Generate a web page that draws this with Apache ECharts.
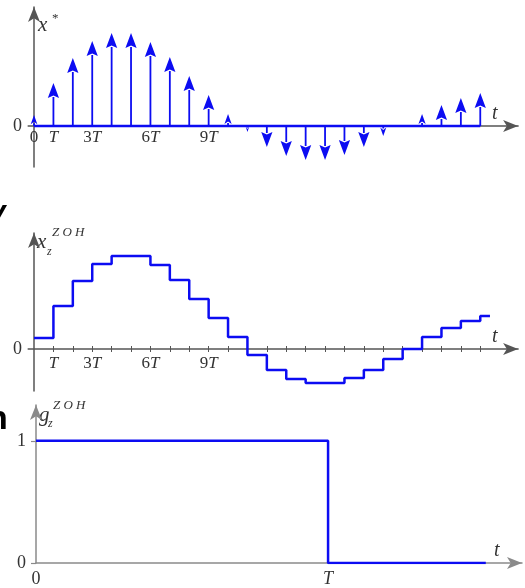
<!DOCTYPE html>
<html><head><meta charset="utf-8">
<script src="https://cdn.jsdelivr.net/npm/echarts@6/dist/echarts.min.js"></script>
<style>html,body{margin:0;padding:0;background:#fff;}#c{width:525px;height:588px;}</style>
</head><body><div id="c"></div>
<script>
// ---- data ----
const sampleIndex = [0,1,2,3,4,5,6,7,8,9,10,11,12,13,14,15,16,17,18,19,20,21,22,23];
const sampleValues = [11,43,68,85,93,93,84,69,50,31,12,-6,-21,-30,-34,-34,-29,-21,-10,0,12,21,28,33];
const holdEnd = 23.5;
const topTickValues = [0,1,3,6,9];
const topTickLabels = ['0','T','3T','6T','9T'];
const midTickMarks = [1,2,3,4,5,6,7,8,9,10,11,12,13,14,15,16,17,18,19,20,21,22,23];
const midTickValues = [1,3,6,9];
const midTickLabels = ['T','3T','6T','9T'];
const pulseT = [0,1,1,1.54];
const pulseG = [1,1,0,0];
const bottomTickValues = [0,1];
const bottomTickLabels = ['0','T'];
const bottomYValues = [0,1];
const bottomYLabels = ['0','1'];

// ---- styling / layout ----
const BLUE = '#0c0cf2';
const AX = '#555';
const AXL = '#8a8a8a';
const TXT = '#333';
const SERIF = '"Liberation Serif","DejaVu Serif",serif';

const X_RANGE = {min: -0.3, max: 24.95};
const G = [
  {left: 28.2, top: 7, width: 489.9, height: 160, ymin: -41, ymax: 119},
  {left: 28.2, top: 233, width: 489.9, height: 158, ymin: -42, ymax: 116},
  {left: 36, top: 405, width: 486, height: 159, ymin: 0, ymax: 1.2927, xmin: 0, xmax: 1.664}
];
// offsets that put each axis on the other's zero
function xOff(g){ return g.ymin * g.height / (g.ymax - g.ymin); }
function yOff(g, xmin, xmax){ return xmin * g.width / (xmax - xmin); }

function fmt(values, labels){
  return function(v){
    const i = values.findIndex(x => Math.abs(x - v) < 1e-6);
    if (i < 0) return '';
    const s = labels[i];
    const m = s.match(/^(\d*)(T?)$/);
    let out = '';
    if (m[1]) out += '{n|' + m[1] + '}';
    if (m[2]) out += '{i|T}';
    return out;
  };
}
const rich = {
  n: {fontFamily: SERIF, fontSize: 17, color: TXT},
  i: {fontFamily: SERIF, fontSize: 17, fontStyle: 'italic', color: TXT}
};
function arrowLine(color){
  return {show: true, onZero: false, symbol: ['none','arrow'], symbolSize: [9,15],
          lineStyle: {color: color, width: 1.5}};
}

const chart = echarts.init(document.getElementById('c'), null, {renderer: 'canvas'});
const impulseData = sampleIndex.map((k,i) => [k, sampleValues[i]]);
const holdData = impulseData.concat([[holdEnd, sampleValues[sampleValues.length-1]]]);

chart.setOption({
  animation: false,
  backgroundColor: '#fff',
  grid: G.map(g => ({left: g.left, top: g.top, width: g.width, height: g.height})),
  xAxis: [
    {gridIndex: 0, type: 'value', min: X_RANGE.min, max: X_RANGE.max, offset: xOff(G[0]), axisLine: arrowLine(AX),
     axisTick: {show: false}, splitLine: {show: false},
     axisLabel: {customValues: topTickValues, formatter: fmt(topTickValues, topTickLabels), margin: 3, rich: rich}},
    {gridIndex: 1, type: 'value', min: X_RANGE.min, max: X_RANGE.max, offset: xOff(G[1]), axisLine: arrowLine(AX),
     axisTick: {show: true, customValues: midTickMarks, length: 3, lineStyle: {color: AX, width: 1}},
     splitLine: {show: false},
     axisLabel: {customValues: midTickValues, formatter: fmt(midTickValues, midTickLabels), margin: 6, rich: rich}},
    {gridIndex: 1, type: 'value', position: 'bottom', min: X_RANGE.min, max: X_RANGE.max, offset: xOff(G[1]),
     axisLine: {show: false, onZero: false},
     axisTick: {show: true, inside: true, customValues: midTickMarks, length: 3, lineStyle: {color: AX, width: 1}},
     splitLine: {show: false}, axisLabel: {show: false}},
    {gridIndex: 2, type: 'value', min: G[2].xmin, max: G[2].xmax, axisLine: arrowLine(AXL),
     axisTick: {show: false}, splitLine: {show: false},
     axisLabel: {customValues: bottomTickValues, formatter: fmt(bottomTickValues, bottomTickLabels), margin: 7,
       rich: {n: Object.assign({}, rich.n, {fontSize: 18}), i: Object.assign({}, rich.i, {fontSize: 18})}}}
  ],
  yAxis: [
    {gridIndex: 0, type: 'value', min: G[0].ymin, max: G[0].ymax, offset: yOff(G[0], X_RANGE.min, X_RANGE.max),
     axisLine: arrowLine(AX), axisTick: {show: false}, splitLine: {show: false},
     axisLabel: {customValues: [0], margin: 12, fontFamily: SERIF, fontSize: 18, color: TXT}},
    {gridIndex: 1, type: 'value', min: G[1].ymin, max: G[1].ymax, offset: yOff(G[1], X_RANGE.min, X_RANGE.max),
     axisLine: arrowLine(AX), axisTick: {show: false}, splitLine: {show: false},
     axisLabel: {customValues: [0], margin: 12, fontFamily: SERIF, fontSize: 18, color: TXT}},
    {gridIndex: 2, type: 'value', min: G[2].ymin, max: G[2].ymax, axisLine: arrowLine(AXL),
     axisTick: {show: true, customValues: bottomYValues, length: 5, lineStyle: {color: AXL, width: 1.2}},
     splitLine: {show: false},
     axisLabel: {customValues: bottomYValues, margin: 10, fontFamily: SERIF, fontSize: 18, color: TXT,
       formatter: v => bottomYLabels[bottomYValues.indexOf(v)] || ''}}
  ],
  series: [
    {type: 'line', xAxisIndex: 0, yAxisIndex: 0, symbol: 'none', z: 3,
     data: [[sampleIndex[0], 0], [sampleIndex[sampleIndex.length-1], 0]],
     lineStyle: {color: BLUE, width: 2.5}},
    {type: 'custom', xAxisIndex: 0, yAxisIndex: 0, z: 4, data: impulseData,
     renderItem: function(params, api){
       const k = api.value(0), v = api.value(1);
       if (Math.abs(v) < 0.5) return null;
       const p0 = api.coord([k, 0]), p1 = api.coord([k, v]);
       const dir = v > 0 ? 1 : -1;
       const hl = Math.min(14, Math.abs(v) * 0.75);
       const hw = hl * 0.4;
       const base = p1[1] + dir * hl;
       return {type: 'group', children: [
         {type: 'line', shape: {x1: p0[0], y1: p0[1], x2: p0[0], y2: base},
          style: {stroke: BLUE, lineWidth: 1.8}},
         {type: 'polygon', shape: {points: [[p1[0], p1[1]], [p1[0]-hw, base + dir*1], [p1[0], base - dir*1.5], [p1[0]+hw, base + dir*1]]},
          style: {fill: BLUE}}
       ]};
     }},
    {type: 'line', xAxisIndex: 1, yAxisIndex: 1, step: 'end', symbol: 'none', z: 3,
     data: holdData, lineStyle: {color: BLUE, width: 2.5}},
    {type: 'line', xAxisIndex: 3, yAxisIndex: 2, symbol: 'none', z: 3,
     data: pulseT.map((t,i) => [t, pulseG[i]]), lineStyle: {color: BLUE, width: 2.5}}
  ],
  graphic: [
    {type: 'text', x: -11, y: 198, style: {text: 'v', font: 'italic bold 30px "Liberation Sans"', fill: '#000'}},
    {type: 'text', x: -13, y: 403, style: {text: 'n', font: 'bold 34px "Liberation Sans"', fill: '#000'}},
    // top label x*
    {type: 'text', x: 38, y: 15, style: {text: 'x', font: 'italic 21px ' + SERIF, fill: TXT}},
    {type: 'text', x: 52, y: 12, style: {text: '*', font: '13px ' + SERIF, fill: TXT}},
    // middle label x_z^ZOH
    {type: 'text', x: 37, y: 232, style: {text: 'x', font: 'italic 21px ' + SERIF, fill: TXT}},
    {type: 'text', x: 52, y: 226, style: {text: 'Z O H', font: 'italic 13px ' + SERIF, fill: TXT}},
    {type: 'text', x: 47, y: 246, style: {text: 'z', font: 'italic 12px ' + SERIF, fill: TXT}},
    // bottom label g_z^ZOH
    {type: 'text', x: 39, y: 405, style: {text: 'g', font: 'italic 21px ' + SERIF, fill: TXT}},
    {type: 'text', x: 53, y: 399, style: {text: 'Z O H', font: 'italic 13px ' + SERIF, fill: TXT}},
    {type: 'text', x: 48, y: 418, style: {text: 'z', font: 'italic 12px ' + SERIF, fill: TXT}},
    // t labels
    {type: 'text', x: 492, y: 104, style: {text: 't', font: 'italic 20px ' + SERIF, fill: TXT}},
    {type: 'text', x: 492, y: 327, style: {text: 't', font: 'italic 20px ' + SERIF, fill: TXT}},
    {type: 'text', x: 494, y: 541, style: {text: 't', font: 'italic 20px ' + SERIF, fill: TXT}}
  ]
});
</script></body></html>
